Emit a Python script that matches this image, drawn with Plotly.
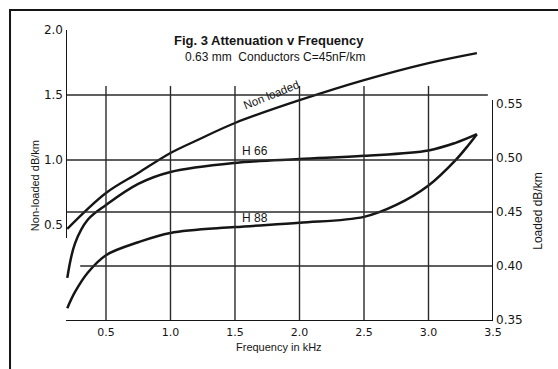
import plotly.graph_objects as go

# ---- data ----
freq_nl = [0.2, 0.5, 0.75, 1.0, 1.21, 1.5, 2.0, 2.5, 3.0, 3.375]
att_nl = [0.47, 0.746, 0.90, 1.054, 1.154, 1.285, 1.46, 1.615, 1.746, 1.823]

freq_h66 = [0.2, 0.26, 0.36, 0.5, 0.75, 1.0, 1.5, 2.0, 2.5, 3.0, 3.21, 3.375]
att_h66 = [0.389, 0.421, 0.443, 0.4565, 0.476, 0.487, 0.4954, 0.499, 0.502, 0.507, 0.514, 0.522]

freq_h88 = [0.2, 0.26, 0.36, 0.5, 0.75, 1.0, 1.5, 2.0, 2.5, 2.75, 3.0, 3.21, 3.31, 3.375]
att_h88 = [0.361, 0.376, 0.394, 0.410, 0.422, 0.4306, 0.436, 0.440, 0.4455, 0.4565, 0.4745, 0.498, 0.512, 0.522]

x_ticks = [0.5, 1.0, 1.5, 2.0, 2.5, 3.0, 3.5]
x_ticklabels = ["0.5", "1.0", "1.5", "2.0", "2.5", "3.0", "3.5"]
left_ticks = [0.5, 1.0, 1.5, 2.0]
left_ticklabels = ["0.5", "1.0", "1.5", "2.0"]
right_ticks = [0.35, 0.40, 0.45, 0.50, 0.55]
right_ticklabels = ["0.35", "0.40", "0.45", "0.50", "0.55"]

INK = "#151515"
GRID = "#2a2a2a"
FONT = "Liberation Sans, Arial, sans-serif"
NUMFONT = "DejaVu Sans, sans-serif"

X0, X1 = 0.19, 3.5
YL0, YL1 = -0.2385, 2.0385
YR0, YR1 = 0.3491, 0.6231

fig = go.Figure()
fig.add_trace(go.Scatter(x=freq_nl, y=att_nl, mode="lines", line=dict(color=INK, width=2.3, shape="spline"),
                         yaxis="y", showlegend=False, hoverinfo="skip"))
fig.add_trace(go.Scatter(x=freq_h66, y=att_h66, mode="lines", line=dict(color=INK, width=2.5, shape="spline"),
                         yaxis="y2", showlegend=False, hoverinfo="skip"))
fig.add_trace(go.Scatter(x=freq_h88, y=att_h88, mode="lines", line=dict(color=INK, width=2.5, shape="spline"),
                         yaxis="y2", showlegend=False, hoverinfo="skip"))

shapes = []
# vertical grid lines
for xv in x_ticks[:-1]:
    shapes.append(dict(type="line", xref="x", yref="y", x0=xv, x1=xv, y0=1.57, y1=YL0,
                       line=dict(color=GRID, width=1.4)))
# horizontal grid lines
shapes.append(dict(type="line", xref="x", yref="y", x0=X0, x1=3.46, y0=1.5, y1=1.5, line=dict(color=GRID, width=1.4)))
shapes.append(dict(type="line", xref="x", yref="y", x0=X0, x1=X1, y0=1.0, y1=1.0, line=dict(color=GRID, width=1.4)))
shapes.append(dict(type="line", xref="x", yref="y2", x0=X0, x1=X1, y0=0.45, y1=0.45, line=dict(color=GRID, width=1.4)))
shapes.append(dict(type="line", xref="x", yref="y2", x0=0.30, x1=X1, y0=0.40, y1=0.40, line=dict(color=GRID, width=1.4)))
# axis lines
shapes.append(dict(type="line", xref="x", yref="y", x0=X0, x1=X1, y0=YL0, y1=YL0, line=dict(color=INK, width=2)))
shapes.append(dict(type="line", xref="x", yref="y", x0=X0, x1=X0, y0=0.40, y1=2.0, line=dict(color=INK, width=2)))
shapes.append(dict(type="line", xref="x", yref="y2", x0=X1, x1=X1, y0=YR0, y1=0.5537, line=dict(color=INK, width=2)))
# outer frame
shapes.append(dict(type="rect", xref="paper", yref="paper", x0=-0.1311, x1=1.2, y0=-0.25, y1=1.0507,
                   line=dict(color=INK, width=2)))

def ann(text, x, y, size, xref="paper", yref="paper", angle=0, xanchor="center", bold=False):
    return dict(text=f"<b>{text}</b>" if bold else text, xref=xref, yref=yref, x=x, y=y,
                xanchor=xanchor, yanchor="middle", textangle=angle, showarrow=False,
                font=dict(family=FONT, size=size, color=INK))

annotations = [
    ann("Fig. 3 Attenuation v Frequency", 0.475, 0.949, 13, bold=True),
    ann("0.63 mm  Conductors C=45nF/km", 0.489, 0.892, 12),
    ann("Frequency in kHz", 0.499, -0.087, 11),
    ann("Non-loaded dB/km", -0.0726, 0.459, 11, angle=-90),
    ann("Loaded dB/km", 1.105, 0.372, 12, angle=-90),
    ann("Non loaded", 1.78, 1.50, 11.5, xref="x", yref="y", angle=-22),
    ann("H 66", 1.539, 0.5065, 12, xref="x", yref="y2", xanchor="left"),
    ann("H 88", 1.539, 0.4444, 12, xref="x", yref="y2", xanchor="left"),
]

fig.update_layout(
    width=558, height=369,
    margin=dict(l=66, r=65, t=25, b=48),
    paper_bgcolor="white", plot_bgcolor="white",
    xaxis=dict(range=[X0, X1], tickvals=x_ticks, ticktext=x_ticklabels, showgrid=False, zeroline=False,
               showline=False, ticks="", ticklabelstandoff=3,
               tickfont=dict(family=NUMFONT, size=11, color=INK)),
    yaxis=dict(range=[YL0, YL1], tickvals=left_ticks, ticktext=left_ticklabels, showgrid=False, zeroline=False,
               showline=False, ticks="", ticklabelstandoff=2,
               tickfont=dict(family=NUMFONT, size=12, color=INK)),
    yaxis2=dict(range=[YR0, YR1], tickvals=right_ticks, ticktext=right_ticklabels, overlaying="y", side="right",
                showgrid=False, zeroline=False, showline=False, ticks="", ticklabelstandoff=2,
                tickfont=dict(family=NUMFONT, size=12, color=INK)),
    shapes=shapes,
    annotations=annotations,
)

fig.write_html("out.html")
